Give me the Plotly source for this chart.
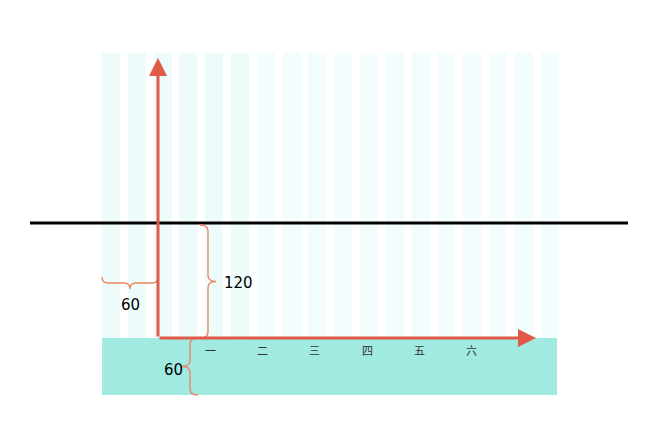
import plotly.graph_objects as go

categories = ["一", "二", "三", "四", "五", "六"]
cat_x = [52, 104, 156, 209, 261, 313]
stripe_x = [-47 + i * 25.8 for i in range(18)]
stripe_h = [285] * 18
brace_labels = ["60", "120", "60"]

RED = "#e05a47"
BR = "#f0825f"

fig = go.Figure()
cols = ["#edfbfb"] * 6 + ["#f3fdfd"] * 12
fig.add_trace(go.Bar(x=stripe_x, y=stripe_h, width=18, marker=dict(color=cols, line_width=0),
                     hoverinfo="skip", showlegend=False))

shapes = [
    dict(type="rect", x0=-56, x1=399, y0=-57, y1=0, fillcolor="#a0eae2", line_width=0, layer="below"),
    dict(type="line", x0=-128, x1=470, y0=115, y1=115, line=dict(color="black", width=3)),
]

def vbrace(x, y0, y1, d):
    m = (y0 + y1) / 2
    s = 6 if y1 > y0 else -6
    return (f"M {x-d},{y0} Q {x},{y0} {x},{y0+s} L {x},{m-s} Q {x},{m} {x+d},{m} "
            f"Q {x},{m} {x},{m+s} L {x},{y1-s} Q {x},{y1} {x-d},{y1}")

def hbrace(y, x0, x1, d):
    m = (x0 + x1) / 2
    return (f"M {x0},{y+d} Q {x0},{y} {x0+6},{y} L {m-6},{y} Q {m},{y} {m},{y-d} "
            f"Q {m},{y} {m+6},{y} L {x1-6},{y} Q {x1},{y} {x1},{y+d}")

shapes.append(dict(type="path", path=vbrace(50, 0, 113, 8), line=dict(color=BR, width=1.3)))
shapes.append(dict(type="path", path=vbrace(32, 0, -57, -8), line=dict(color=BR, width=1.3)))
shapes.append(dict(type="path", path=hbrace(55, -56, 0, 6), line=dict(color=BR, width=1.3)))

ann = [
    dict(x=0, y=280, ax=0, ay=0, axref="x", ayref="y", showarrow=True, arrowhead=2, arrowsize=1.2,
         arrowwidth=3, arrowcolor=RED, text=""),
    dict(x=378, y=0, ax=0, ay=0, axref="x", ayref="y", showarrow=True, arrowhead=2, arrowsize=1.2,
         arrowwidth=3, arrowcolor=RED, text=""),
    dict(x=-28, y=33, text=brace_labels[0], showarrow=False, font=dict(size=15, color="black")),
    dict(x=80, y=55, text=brace_labels[1], showarrow=False, font=dict(size=15, color="black")),
    dict(x=15, y=-32, text=brace_labels[2], showarrow=False, font=dict(size=15, color="black")),
]
for c, x in zip(categories, cat_x):
    ann.append(dict(x=x, y=-12, text=c, showarrow=False,
                    font=dict(size=11, color="#333", family="Noto Sans CJK SC")))

fig.update_layout(
    width=668, height=425, margin=dict(l=0, r=0, t=0, b=0),
    paper_bgcolor="white", plot_bgcolor="white",
    xaxis=dict(range=[-150, 518], visible=False, fixedrange=True),
    yaxis=dict(range=[-95, 330], visible=False, fixedrange=True),
    shapes=shapes, annotations=ann, bargap=0,
    font=dict(family="DejaVu Sans"),
)
fig.write_html("out.html")
